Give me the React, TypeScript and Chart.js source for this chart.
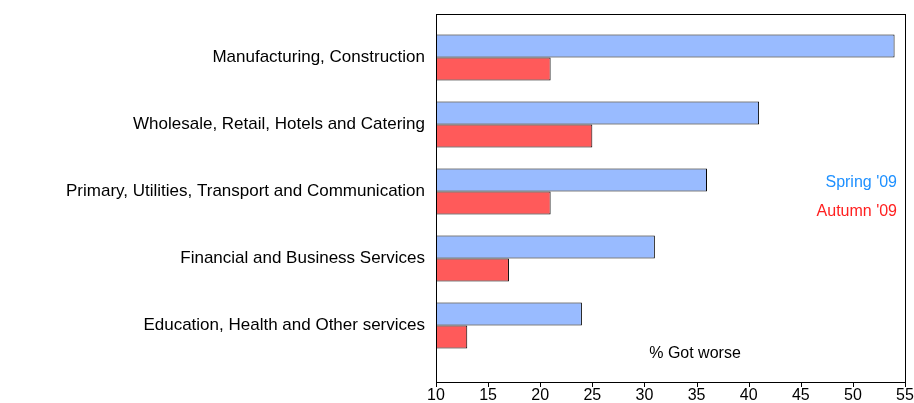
import { useEffect, useRef } from 'react';
import { Chart, registerables } from 'chart.js';

Chart.register(...registerables);

const categories = [
  'Manufacturing, Construction',
  'Wholesale, Retail, Hotels and Catering',
  'Primary, Utilities, Transport and Communication',
  'Financial and Business Services',
  'Education, Health and Other services',
];
const spring09 = [54, 41, 36, 31, 24];
const autumn09 = [21, 25, 21, 17, 13];
const xTicks = [10, 15, 20, 25, 30, 35, 40, 45, 50, 55];

const FONT = { family: 'Liberation Sans, Arial, sans-serif', size: 16 };
const EXTRA_TOP = 10;
const EXTRA_BOTTOM = 23;

const overlay = {
  id: 'overlay',
  afterDraw(chart: Chart) {
    const { ctx, chartArea: a } = chart;
    const top = a.top - EXTRA_TOP;
    const bottom = a.bottom + EXTRA_BOTTOM;
    const x = chart.scales.x;
    ctx.save();
    ctx.strokeStyle = '#000';
    ctx.lineWidth = 1;
    ctx.strokeRect(a.left + 0.5, top + 0.5, a.right - a.left, bottom - top);
    ctx.beginPath();
    xTicks.forEach((v) => {
      const px = Math.round(x.getPixelForValue(v)) + 0.5;
      ctx.moveTo(px, bottom);
      ctx.lineTo(px, bottom + 5);
    });
    ctx.stroke();
    ctx.font = `16px ${FONT.family}`;
    ctx.textAlign = 'right';
    ctx.textBaseline = 'middle';
    ctx.fillStyle = '#1E90FF';
    ctx.fillText("Spring '09", a.right - 8, a.top + 159);
    ctx.fillStyle = '#FF2020';
    ctx.fillText("Autumn '09", a.right - 8, a.top + 188);
    ctx.fillStyle = '#000';
    ctx.textAlign = 'center';
    ctx.fillText('% Got worse', a.left + 259, a.bottom - 5);
    ctx.restore();
  },
};

export default function App() {
  const ref = useRef<HTMLCanvasElement>(null);
  useEffect(() => {
    if (!ref.current) return;
    const chart = new Chart(ref.current, {
      type: 'bar',
      data: {
        labels: categories,
        datasets: [
          { label: "Spring '09", data: spring09, backgroundColor: '#99BBFF', borderColor: '#000', borderWidth: 1, borderSkipped: false },
          { label: "Autumn '09", data: autumn09, backgroundColor: '#FF5A5A', borderColor: '#000', borderWidth: 1, borderSkipped: false },
        ],
      },
      options: {
        indexAxis: 'y',
        animation: false,
        responsive: false,
        layout: { padding: { left: 0, right: 9, top: 24, bottom: 0 } },
        datasets: { bar: { categoryPercentage: 0.69, barPercentage: 1 } },
        plugins: { legend: { display: false }, tooltip: { enabled: false } },
        scales: {
          x: {
            min: 10,
            max: 55,
            grid: { display: false },
            border: { display: false },
            ticks: { stepSize: 5, color: '#000', font: FONT, padding: 19, maxRotation: 0 },
            afterFit: (s: any) => { s.height = 44; s.paddingLeft = 0; s.paddingRight = 0; },
          },
          y: {
            grid: { display: false, drawTicks: true, tickLength: 7, color: '#000' },
            border: { color: '#000' },
            ticks: { color: '#000', font: { ...FONT, size: 17 }, padding: 4 },
            afterFit: (s: any) => { s.width = 436; s.paddingTop = 0; s.paddingBottom = 0; },
          },
        },
      },
      plugins: [overlay],
    });
    return () => chart.destroy();
  }, []);
  return (
    <div style={{ position: 'fixed', left: 0, top: 0, width: 914, height: 403, background: '#fff' }}>
      <canvas ref={ref} width={914} height={403} />
    </div>
  );
}
